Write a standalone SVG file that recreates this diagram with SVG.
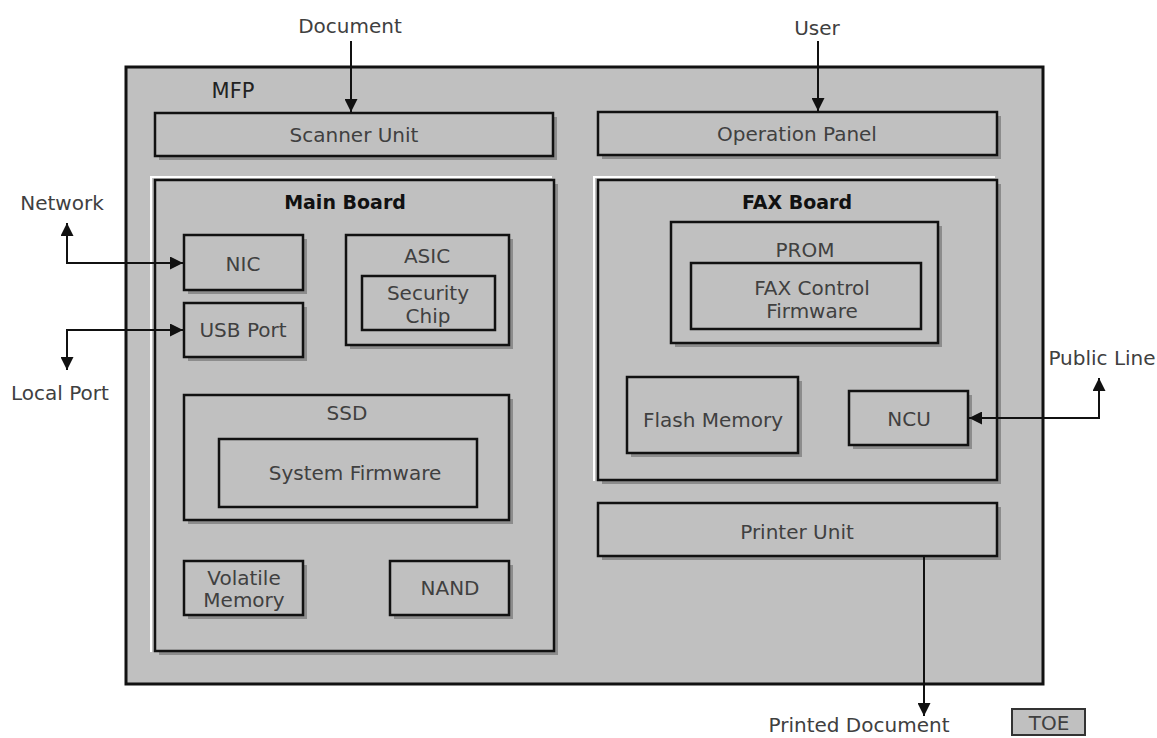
<svg xmlns="http://www.w3.org/2000/svg" width="1157" height="738" viewBox="0 0 1157 738">
<defs>
<style>
.t{font-family:"DejaVu Sans",Verdana,sans-serif;font-size:20px;fill:#404040;text-anchor:middle}
.b{font-weight:bold;fill:#111;font-size:19px}
.box{fill:#c0c0c0;stroke:#111;stroke-width:2.5}
.sh{fill:#8c8c8c}
.hl{fill:none;stroke:#fff;stroke-width:2}
.ln{fill:none;stroke:#111;stroke-width:2}
</style>
<marker id="ah" viewBox="0 0 10 10" refX="10" refY="5" markerWidth="13" markerHeight="13" orient="auto-start-reverse" markerUnits="userSpaceOnUse">
<path d="M0,0 L10,5 L0,10 z" fill="#111"/>
</marker>
</defs>
<rect width="1157" height="738" fill="#fff"/>
<g id="mfp">
<rect x="126" y="67" width="917" height="617" fill="#c0c0c0" stroke="#111" stroke-width="3"/>
<text x="233" y="98" class="t" style="font-size:21px;fill:#222">MFP</text>
</g>
<g id="scanner">
<rect x="159" y="117" width="398" height="43" class="sh"/>
<rect x="155" y="113" width="398" height="43" class="box"/>
<text x="354" y="142" class="t">Scanner Unit</text>
</g>
<g id="opanel">
<rect x="602" y="116" width="399" height="43" class="sh"/>
<rect x="598" y="112" width="399" height="43" class="box"/>
<text x="797" y="141" class="t">Operation Panel</text>
</g>
<g id="mainboard">
<path d="M151,652 V177 H552" class="hl"/>
<rect x="159" y="184" width="399" height="471" class="sh"/>
<rect x="155" y="180" width="399" height="471" class="box"/>
<text x="345" y="209" class="t b">Main Board</text>
</g>
<g id="nic">
<rect x="188" y="239" width="119" height="55" class="sh"/>
<rect x="184" y="235" width="119" height="55" class="box"/>
<text x="243" y="271" class="t">NIC</text>
</g>
<g id="usb">
<rect x="188" y="307" width="119" height="54" class="sh"/>
<rect x="184" y="303" width="119" height="54" class="box"/>
<text x="243" y="337" class="t">USB Port</text>
</g>
<g id="asic">
<rect x="350" y="239" width="163" height="110" class="sh"/>
<rect x="346" y="235" width="163" height="110" class="box"/>
<text x="427" y="263" class="t">ASIC</text>
</g>
<g id="secchip">
<rect x="362" y="276" width="133" height="54" class="box"/>
<text x="428" y="300" class="t">Security</text>
<text x="428" y="323" class="t">Chip</text>
</g>
<g id="ssd">
<rect x="188" y="399" width="325" height="125" class="sh"/>
<rect x="184" y="395" width="325" height="125" class="box"/>
<text x="347" y="420" class="t">SSD</text>
</g>
<g id="sysfw">
<rect x="219" y="439" width="258" height="68" class="box"/>
<text x="355" y="480" class="t">System Firmware</text>
</g>
<g id="volatile">
<rect x="188" y="565" width="119" height="54" class="sh"/>
<rect x="184" y="561" width="119" height="54" class="box"/>
<text x="244" y="585" class="t">Volatile</text>
<text x="244" y="607" class="t">Memory</text>
</g>
<g id="nand">
<rect x="394" y="565" width="119" height="54" class="sh"/>
<rect x="390" y="561" width="119" height="54" class="box"/>
<text x="450" y="595" class="t">NAND</text>
</g>
<g id="faxboard">
<path d="M594,481 V177 H995" class="hl"/>
<rect x="602" y="184" width="399" height="300" class="sh"/>
<rect x="598" y="180" width="399" height="300" class="box"/>
<text x="797" y="209" class="t b">FAX Board</text>
</g>
<g id="prom">
<rect x="675" y="226" width="267" height="121" class="sh"/>
<rect x="671" y="222" width="267" height="121" class="box"/>
<text x="805" y="257" class="t">PROM</text>
</g>
<g id="faxfw">
<rect x="691" y="263" width="230" height="66" class="box"/>
<text x="812" y="295" class="t">FAX Control</text>
<text x="812" y="318" class="t">Firmware</text>
</g>
<g id="flash">
<rect x="631" y="381" width="171" height="76" class="sh"/>
<rect x="627" y="377" width="171" height="76" class="box"/>
<text x="713" y="427" class="t">Flash Memory</text>
</g>
<g id="ncu">
<rect x="853" y="395" width="119" height="54" class="sh"/>
<rect x="849" y="391" width="119" height="54" class="box"/>
<text x="909" y="426" class="t">NCU</text>
</g>
<g id="printer">
<rect x="602" y="507" width="399" height="53" class="sh"/>
<rect x="598" y="503" width="399" height="53" class="box"/>
<text x="797" y="539" class="t">Printer Unit</text>
</g>
<g id="legend">
<rect x="1012" y="709" width="73" height="26" fill="#c0c0c0" stroke="#333" stroke-width="2"/>
<text x="1049" y="730" class="t">TOE</text>
</g>
<g id="labels">
<text x="350" y="33" class="t">Document</text>
<text x="817" y="35" class="t">User</text>
<text x="62" y="210" class="t">Network</text>
<text x="60" y="400" class="t">Local Port</text>
<text x="1102" y="365" class="t">Public Line</text>
<text x="859" y="732" class="t">Printed Document</text>
</g>
<g id="connectors">
<path d="M351,41 V112" class="ln" marker-end="url(#ah)"/>
<path d="M818,41 V111" class="ln" marker-end="url(#ah)"/>
<path d="M67,223 V263 H183" class="ln" marker-start="url(#ah)" marker-end="url(#ah)"/>
<path d="M67,370 V330 H183" class="ln" marker-start="url(#ah)" marker-end="url(#ah)"/>
<path d="M1099,378 V418 H969" class="ln" marker-start="url(#ah)" marker-end="url(#ah)"/>
<path d="M924,557 V716" class="ln" marker-end="url(#ah)"/>
</g>
</svg>
